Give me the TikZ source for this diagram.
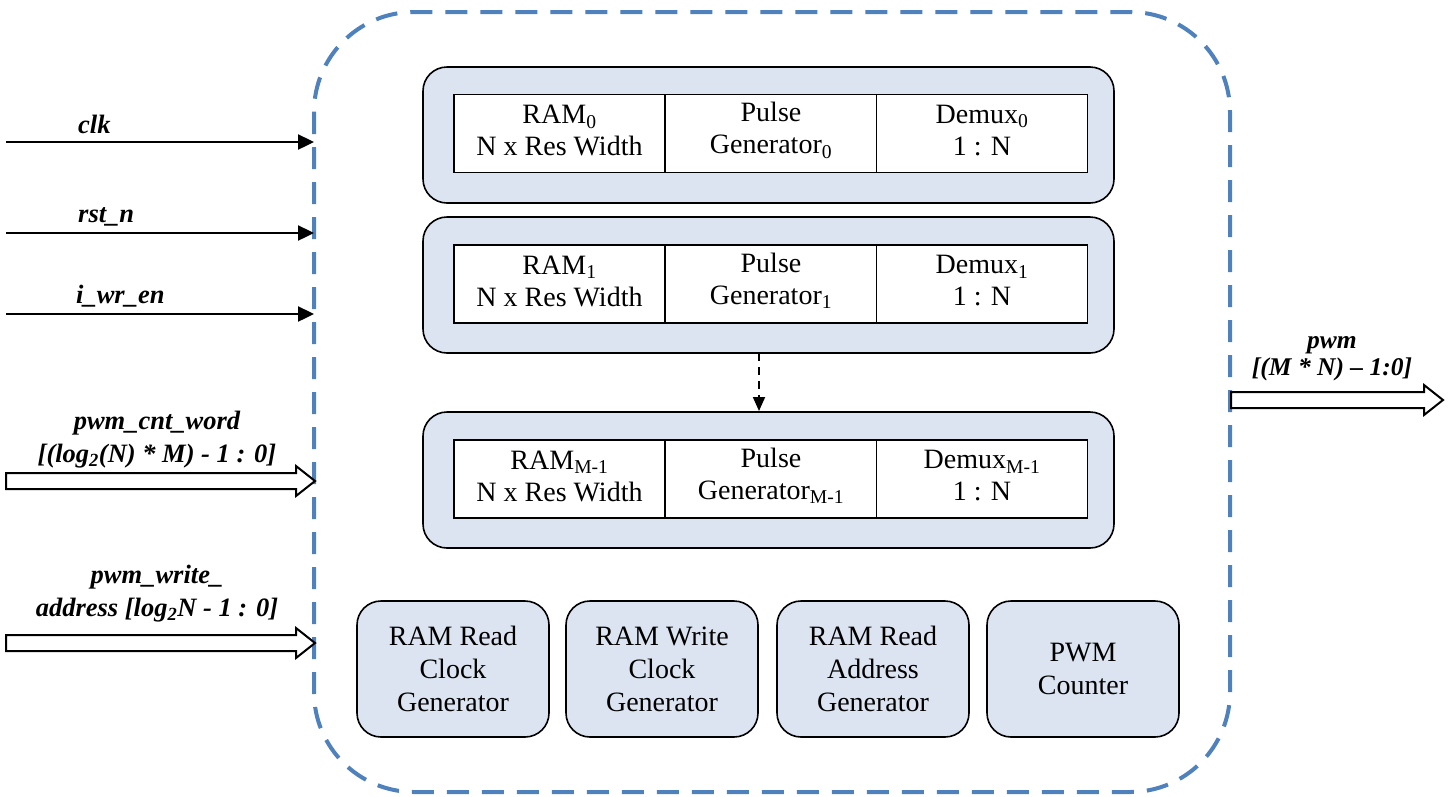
\documentclass[tikz,border=0pt]{standalone}
\usepackage{fontspec}
\setmainfont{Liberation Serif}
\usetikzlibrary{arrows.meta,calc}
\definecolor{blockfill}{RGB}{219,228,240}
\definecolor{dashblue}{RGB}{79,129,189}
\newcommand{\fatarrow}[4]{% start, end, shaft half, head half
  \draw[line width=2pt, fill=white, line join=miter]
    ($(#1)+(0,-#3)$) -- ($(#2)+(-19,-#3)$) -- ($(#2)+(-19,-#4)$) -- (#2)
    -- ($(#2)+(-19,#4)$) -- ($(#2)+(-19,#3)$) -- ($(#1)+(0,#3)$) -- cycle;}
\begin{document}
\begin{tikzpicture}[x=1pt,y=-1pt,
  outerbox/.style={draw=dashblue, line width=4pt, dash pattern=on 22pt off 13pt, rounded corners=100pt},
  block/.style={draw=black, line width=1.6pt, fill=blockfill, rounded corners=24pt, minimum width=691pt, minimum height=136pt, inner sep=0pt},
  cell/.style={draw=black, line width=1.4pt, fill=white, minimum height=78pt, minimum width=211pt, inner sep=0pt,
    label={[align=center, font=\fontsize{28}{32}\selectfont, yshift=3pt, inner sep=0pt]center:#1}},
  unitbox/.style={draw=black, line width=1.6pt, fill=blockfill, rounded corners=24pt, minimum width=192pt, minimum height=136pt, align=center, inner sep=0pt, font=\fontsize{28}{33}\selectfont},
  sig/.style={font=\fontsize{26.5}{33}\selectfont\bfseries\itshape, inner sep=0pt},
  thinarrow/.style={line width=2.4pt, -{Triangle[length=16pt,width=15pt]}},
  dasharrow/.style={line width=1.8pt, dash pattern=on 8pt off 6pt, -{Triangle[length=14pt,width=12pt]}}
]
\useasboundingbox (0,0) rectangle (1453,796);
\fill[white] (0,0) rectangle (1453,796);

% outer dashed boundary
\draw[outerbox] (314,12) rectangle (1230,792);

% block 0
\node[block] (b0) at (768.5,135) {};
\node[cell={RAM\textsubscript{0}\\N x Res Width}] (r0) at (559.5,133.5) {};
\node[cell={Pulse\\Generator\textsubscript{0}}] (p0) at (771,133.5) {};
\node[cell={Demux\textsubscript{0}\\1 : N}] (d0) at (982,133.5) {};

% block 1
\node[block] (b1) at (768.5,285) {};
\node[cell={RAM\textsubscript{1}\\N x Res Width}] (r1) at (559.5,284) {};
\node[cell={Pulse\\Generator\textsubscript{1}}] (p1) at (771,284) {};
\node[cell={Demux\textsubscript{1}\\1 : N}] (d1) at (982,284) {};

% block M-1
\node[block] (bm) at (768.5,480) {};
\node[cell={RAM\textsubscript{M-1}\\N x Res Width}] (rm) at (559.5,479) {};
\node[cell={Pulse\\Generator\textsubscript{M-1}}] (pm) at (771,479) {};
\node[cell={Demux\textsubscript{M-1}\\1 : N}] (dm) at (982,479) {};

\coordinate (dA) at (759,353);
\coordinate (dB) at (759,411);
\draw[dasharrow] (dA) -- (dB);

% bottom units
\node[unitbox] (u1) at (453,669) {RAM Read\\Clock\\Generator};
\node[unitbox] (u2) at (662,669) {RAM Write\\Clock\\Generator};
\node[unitbox] (u3) at (873,669) {RAM Read\\Address\\Generator};
\node[unitbox] (u4) at (1083,669) {PWM\\Counter};

% input signals
\coordinate (clkS) at (6,142);   \coordinate (clkE) at (314,142);
\coordinate (rstS) at (6,233);   \coordinate (rstE) at (314,233);
\coordinate (wrS) at (6,314);    \coordinate (wrE) at (314,314);
\draw[thinarrow] (clkS) -- (clkE);
\draw[thinarrow] (rstS) -- (rstE);
\draw[thinarrow] (wrS) -- (wrE);
\node[sig, anchor=base west] (lclk) at (78,133) {clk};
\node[sig, anchor=base west] (lrst) at (78,222) {rst\_n};
\node[sig, anchor=base west] (lwr) at (76,303) {i\_wr\_en};

\coordinate (cwS) at (6,481);   \coordinate (cwE) at (315,481);
\coordinate (waS) at (6,643);   \coordinate (waE) at (315,643);
\fatarrow{cwS}{cwE}{8}{15}
\fatarrow{waS}{waE}{8}{15}
\node[sig, align=center] (lcw) at (157,440) {pwm\_cnt\_word\\{}[(log\textsubscript{2}(N) * M) - 1 : 0]};
\node[sig, align=center] (lwa) at (157,594) {pwm\_write\_\\address [log\textsubscript{2}N - 1 : 0]};

% output
\coordinate (oS) at (1231,400);  \coordinate (oE) at (1443,400);
\fatarrow{oS}{oE}{8}{15}
\node[sig, align=center, font=\fontsize{25.5}{27}\selectfont\bfseries\itshape] (lout) at (1332,359) {pwm\\{}[(M * N) -- 1:0]};
\end{tikzpicture}
\end{document}
